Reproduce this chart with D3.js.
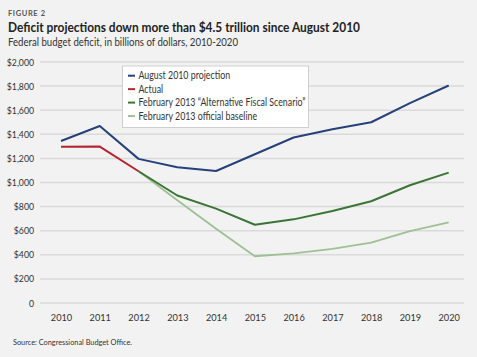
<!DOCTYPE html>
<html><head><meta charset="utf-8">
<script src="https://cdn.jsdelivr.net/npm/d3@7"></script>
<style>
html,body{margin:0;padding:0;background:#f2f2f2;}
svg{display:block;}
</style></head>
<body>
<svg id="chart" width="477" height="357"></svg>
<script>
const years = [2010,2011,2012,2013,2014,2015,2016,2017,2018,2019,2020];
const yTicks = [0,200,400,600,800,1000,1200,1400,1600,1800,2000];
const aug2010 = [1340,1465,1192,1122,1091,1230,1369,1437,1496,1655,1801];
const actualYears = [2010,2011,2012];
const actual = [1293,1294,1089];
const fcstYears = [2012,2013,2014,2015,2016,2017,2018,2019,2020];
const altFiscal = [1089,888,779,645,690,760,840,973,1078];
const baseline = [1089,848,612,384,408,445,496,592,665];
const seriesNames = ["August 2010 projection","Actual","February 2013 \u201cAlternative Fiscal Scenario\u201d","February 2013 official baseline"];
const colors = ["#26407a","#b3262d","#3b7535","#9dc194"];

const svg = d3.select("#chart");
const font = "Lato, 'Open Sans', sans-serif";
function condense(sel, f){
  sel.each(function(){
    const w = this.getComputedTextLength();
    d3.select(this).attr("textLength", w*f).attr("lengthAdjust","spacingAndGlyphs");
  });
  return sel;
}
svg.append("rect").attr("width",477).attr("height",357).attr("fill","#f2f2f2");

svg.append("text").attr("x",8).attr("y",16).text("FIGURE 2")
  .attr("font-family",font).attr("font-weight",700).attr("font-size",7.5)
  .attr("letter-spacing",0.6).attr("fill","#555");
svg.append("text").attr("x",8).attr("y",31.5).text("Deficit projections down more than $4.5 trillion since August 2010")
  .attr("font-family",font).attr("font-weight",700).attr("font-size",14).attr("fill","#222")
  .attr("textLength",352).attr("lengthAdjust","spacingAndGlyphs");
svg.append("text").attr("x",8).attr("y",46).text("Federal budget deficit, in billions of dollars, 2010-2020")
  .attr("font-family",font).attr("font-size",11).attr("fill","#333")
  .attr("textLength",230).attr("lengthAdjust","spacingAndGlyphs");
svg.append("text").attr("x",13).attr("y",345).text("Source: Congressional Budget Office.")
  .attr("font-family",font).attr("font-size",8).attr("fill","#333")
  .attr("textLength",119).attr("lengthAdjust","spacingAndGlyphs");

const x = d3.scalePoint().domain(years).range([61,448.7]);
const y = d3.scaleLinear().domain([0,2000]).range([302.5,61.5]);

// gridlines
const gridAxis = d3.axisLeft(y).tickValues(yTicks).tickSize(-424).tickFormat("");
const gg = svg.append("g").attr("transform","translate(40,0)").call(gridAxis);
gg.select(".domain").remove();
gg.selectAll("line").attr("stroke","#dadada").attr("stroke-width",1.5);

// y labels
const yAxis = d3.axisLeft(y).tickValues(yTicks).tickSize(0).tickPadding(0)
  .tickFormat(d => d===0 ? "0" : "$" + d3.format(",")(d));
const yg = svg.append("g").attr("transform","translate(34,0)").call(yAxis);
yg.select(".domain").remove();
condense(yg.selectAll("text").attr("font-family",font).attr("font-size",10).attr("fill","#333").attr("dy","0.35em"), 0.87);

// x labels
const xAxis = d3.axisBottom(x).tickSize(0).tickPadding(0).tickFormat(d3.format("d"));
const xg = svg.append("g").attr("transform","translate(0,314)").call(xAxis);
xg.select(".domain").remove();
condense(xg.selectAll("text").attr("font-family",font).attr("font-size",10).attr("fill","#333"), 0.92);

const line = d3.line().x(d=>x(d[0])).y(d=>y(d[1]));
const series = [
  {yrs:fcstYears, vals:baseline, c:colors[3], w:1.8},
  {yrs:fcstYears, vals:altFiscal, c:colors[2], w:2},
  {yrs:actualYears, vals:actual, c:colors[1], w:2},
  {yrs:years, vals:aug2010, c:colors[0], w:2},
];
series.forEach(s=>{
  svg.append("path").attr("d", line(s.yrs.map((yr,i)=>[yr,s.vals[i]])))
    .attr("fill","none").attr("stroke",s.c).attr("stroke-width",s.w)
    .attr("stroke-linejoin","round");
});

// legend
const lg = svg.append("g");
lg.append("rect").attr("x",122.5).attr("y",66).attr("width",186).attr("height",61.5)
  .attr("fill","#fff").attr("stroke","#cfcfcf").attr("stroke-width",1);
seriesNames.forEach((n,i)=>{
  const yy = 75.7 + i*13.45;
  lg.append("line").attr("x1",128).attr("x2",135).attr("y1",yy).attr("y2",yy)
    .attr("stroke",colors[i]).attr("stroke-width",2);
  const t = lg.append("text").attr("x",138.5).attr("y",yy).attr("dy","0.35em").text(n)
    .attr("font-family",font).attr("font-size",10.5).attr("fill","#333");
  condense(t, 0.84);
});
</script>
</body></html>
